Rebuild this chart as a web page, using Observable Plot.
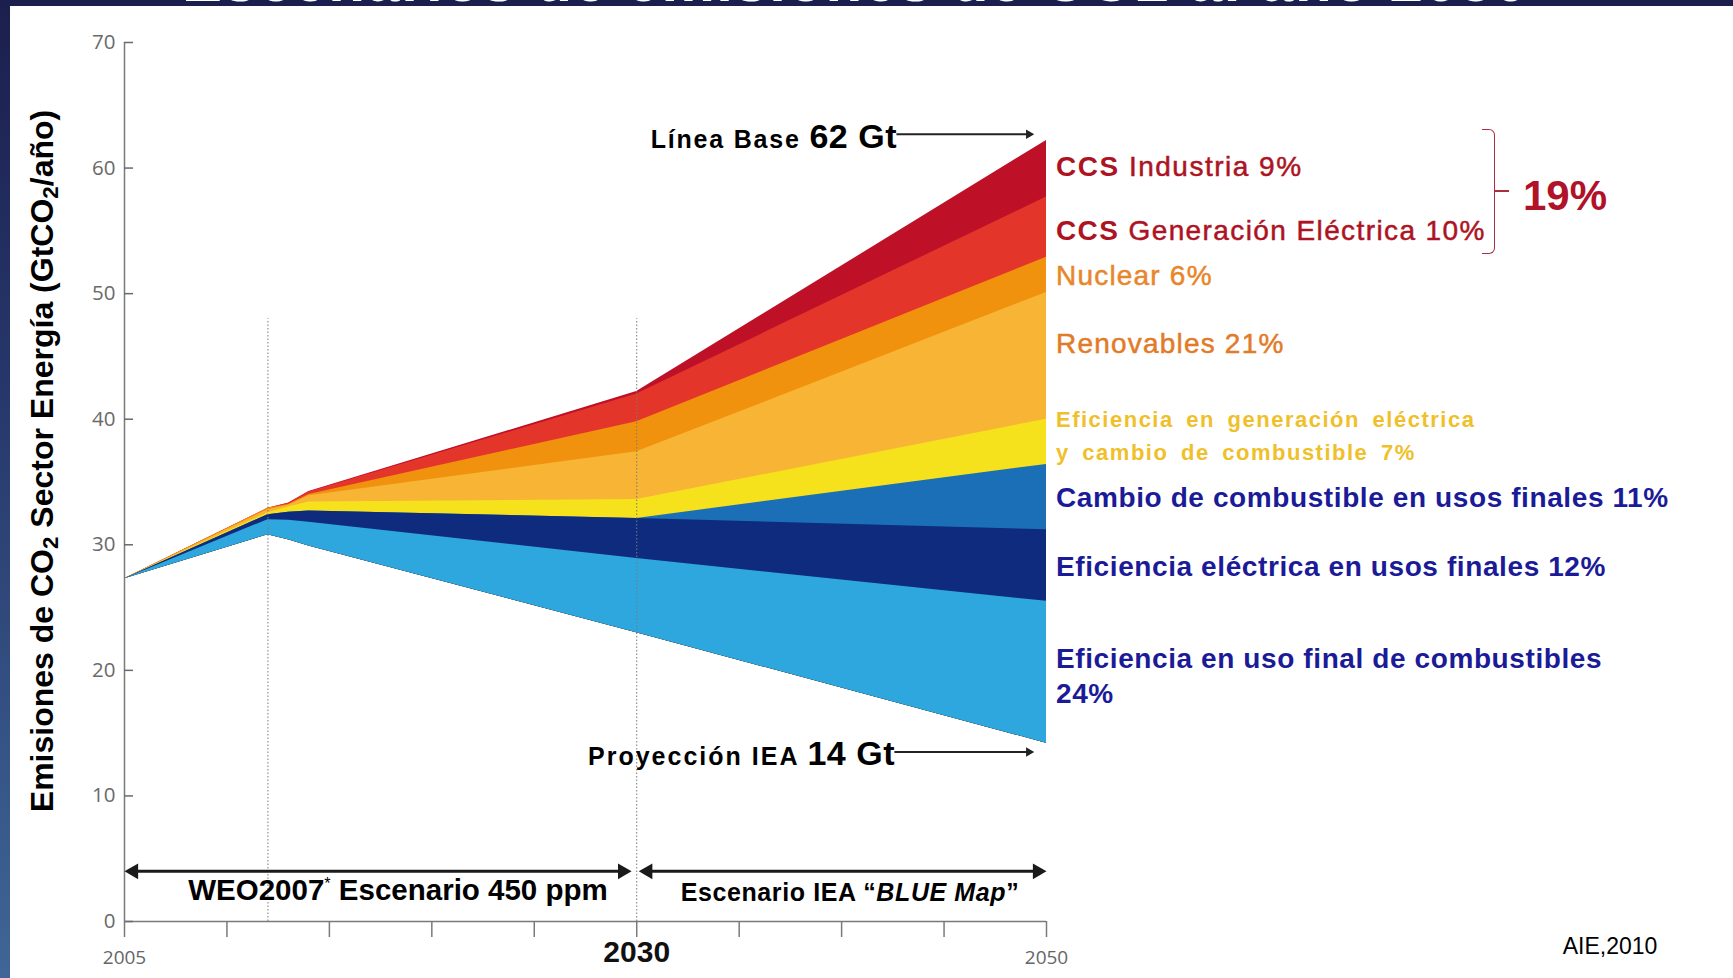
<!DOCTYPE html>
<html><head><meta charset="utf-8">
<script src="https://cdn.jsdelivr.net/npm/d3@7"></script>
<script src="https://cdn.jsdelivr.net/npm/@observablehq/plot@0.6"></script>
<style>
html,body{margin:0;padding:0}
body{width:1733px;height:978px;position:relative;overflow:hidden;background:#fff;font-family:"Liberation Sans",Arial,sans-serif}
#chart{position:absolute;left:0;top:0}
.t{position:absolute;white-space:nowrap;line-height:1}
.leftband{position:absolute;left:0;top:0;width:10px;height:978px;background:linear-gradient(#1b1f4d,#27376b 40%,#3f6696)}
.topband{position:absolute;left:0;top:0;width:1733px;height:6px;background:#1b1f4d;overflow:hidden}
.topband span{position:absolute;left:182px;top:-49px;font:bold 60px "Liberation Sans",Arial,sans-serif;line-height:1;color:#fff;white-space:nowrap;letter-spacing:1.5px}
</style></head><body>
<div id="chart"></div>
<div class="leftband"></div>
<div class="topband"><span>Escenarios de emisiones de CO2 al año 2050</span></div>
<script>
// ---- data (GtCO2/año) ----
const years = [2005, 2012, 2013, 2014, 2030, 2050];
const proyeccionIEA = [27.3, 30.8, 30.4, 29.9, 23.0, 14.2];   // bottom edge (BLUE Map)
const eficUsoFinal = [0, 1.2, 1.55, 1.9, 5.9, 11.3];
const eficElectrica = [0, 0.4, 0.65, 0.9, 3.2, 5.7];
const cambioCombustible = [0, 0, 0, 0, 0, 5.2];
const eficGeneracion = [0, 0.15, 0.4, 0.7, 1.5, 3.6];
const renovables = [0, 0.25, 0.15, 0.5, 3.8, 10.1];
const nuclear = [0, 0.1, 0.05, 0.1, 2.4, 2.8];
const ccsGeneracion = [0, 0, 0.1, 0.2, 2.2, 4.8];
const ccsIndustria = [0, 0, 0, 0.05, 0.2, 4.5];
const layerNames = ["Eficiencia en uso final de combustibles", "Eficiencia eléctrica en usos finales",
  "Cambio de combustible en usos finales", "Eficiencia en generación eléctrica y cambio de combustible",
  "Renovables", "Nuclear", "CCS Generación Eléctrica", "CCS Industria"];
const layerValues = [eficUsoFinal, eficElectrica, cambioCombustible, eficGeneracion, renovables, nuclear, ccsGeneracion, ccsIndustria];
const layerColors = ["#2ea7de", "#0f2b7d", "#1b6fb6", "#f6e11d", "#f8b434", "#f0920d", "#e4352a", "#be1027"];
const yTicks = [0, 10, 20, 30, 40, 50, 60, 70];
const xTicks = [2005, 2010, 2015, 2020, 2025, 2030, 2035, 2040, 2045, 2050];
const xLabelsSmall = [2005, 2050];
const xLabelsBig = [2030];
const phaseYears = [2012, 2030];
const phaseTop = 48;
const scenarioArrows = [{from: 2005, to: 2029.75, y: 4}, {from: 2030.1, to: 2050, y: 4}];
const valueArrows = [{from: 2042.7, to: 2049.4, y: 62.7}, {from: 2042.6, to: 2049.4, y: 13.5}];

// ---- build table ----
const layerRows = [];
let cum = proyeccionIEA.slice();
layerValues.forEach((vals, k) => {
  cum = cum.map((c, i) => c + vals[i]);
  layerRows.push(years.map((yr, i) => ({layer: layerNames[k], year: yr, base: proyeccionIEA[i], top: cum[i]})));
});

const marks = [];
for (let k = layerRows.length - 1; k >= 0; k--) {
  marks.push(Plot.areaY(layerRows[k], {x: "year", y1: "base", y2: "top", fill: layerColors[k]}));
}
const bigR = 7.5, smallR = 4.5;
const tip = r => r * Math.sqrt(Math.PI) * 0.6824;
const leftHeads = scenarioArrows.map(a => ({x: a.from, y: a.y}));
const rightHeads = scenarioArrows.map(a => ({x: a.to, y: a.y}));
const smallHeads = valueArrows.map(a => ({x: a.to, y: a.y}));

marks.push(
  Plot.ruleX(phaseYears, {x: d => d, y1: 0, y2: phaseTop, stroke: "#7a7a7a", strokeWidth: 1, strokeDasharray: "1.5,2"}),
  Plot.ruleX([2005], {y1: 0, y2: 70, stroke: "#7a7a7a", strokeWidth: 1.5}),
  Plot.ruleY([0], {x1: 2005, x2: 2050, stroke: "#7a7a7a", strokeWidth: 1.5}),
  Plot.axisY(yTicks, {tickSize: -9, tickPadding: 18, fontSize: 20.5, color: "#6a6a6a", label: null, fontFamily: "Open Sans, sans-serif", strokeWidth: 1.5}),
  Plot.axisX(xTicks, {tickSize: 16, tickFormat: () => "", label: null, color: "#7a7a7a", strokeWidth: 1.5}),
  Plot.text(xLabelsSmall, {x: d => d, frameAnchor: "bottom", dy: 42, text: d => String(d), fontSize: 19, fill: "#666", fontFamily: "Open Sans, sans-serif"}),
  Plot.text(xLabelsBig, {x: d => d, frameAnchor: "bottom", dy: 40, text: d => String(d), fontSize: 30, fontWeight: "bold", fill: "#111", fontFamily: "Liberation Sans Narrow, Liberation Sans, sans-serif"}),
  Plot.ruleY(scenarioArrows, {y: "y", x1: "from", x2: "to", stroke: "#1a1a1a", strokeWidth: 3, insetLeft: 4, insetRight: 4}),
  Plot.dot(leftHeads, {x: "x", y: "y", rotate: -90, symbol: "triangle2", r: bigR, fill: "#1a1a1a", dx: tip(bigR)}),
  Plot.dot(rightHeads, {x: "x", y: "y", rotate: 90, symbol: "triangle2", r: bigR, fill: "#1a1a1a", dx: -tip(bigR)}),
  Plot.ruleY(valueArrows, {y: "y", x1: "from", x2: "to", stroke: "#222", strokeWidth: 2, insetRight: 3}),
  Plot.dot(smallHeads, {x: "x", y: "y", rotate: 90, symbol: "triangle2", r: smallR, fill: "#222", dx: -tip(smallR)})
);

const chart = Plot.plot({
  width: 1733, height: 978,
  marginLeft: 124, marginRight: 687, marginTop: 42, marginBottom: 57,
  x: {domain: [2005, 2050]},
  y: {domain: [0, 70]},
  style: {background: "white", overflow: "visible"},
  marks
});
document.getElementById("chart").appendChild(chart);

// ---- text annotations ----
function place(html, o) {
  const d = document.createElement("div");
  d.className = "t";
  d.innerHTML = html;
  d.style.left = o.left + "px";
  d.style.top = o.cy + "px";
  d.style.fontSize = o.size + "px";
  d.style.color = o.color || "#000";
  d.style.fontWeight = o.weight || "bold";
  if (o.family) d.style.fontFamily = o.family;
  if (o.ls) d.style.letterSpacing = o.ls + "px";
  if (o.ws) d.style.wordSpacing = o.ws + "px";
  d.style.transform = (o.center ? "translate(-50%,-50%)" : o.right ? "translate(-100%,-50%)" : "translateY(-50%)") + (o.rot ? " rotate(" + o.rot + "deg)" : "");
  if (o.extra) Object.assign(d.style, o.extra);
  document.body.appendChild(d);
  return d;
}
const narrow = '"Liberation Sans Narrow","Liberation Sans",Arial,sans-serif';
place('Emisiones de CO<sub style="font-size:0.7em;vertical-align:-0.2em">2</sub> Sector Energía (GtCO<sub style="font-size:0.7em;vertical-align:-0.2em">2</sub>/año)',
  {left: 44, cy: 461, size: 32, family: narrow, center: true, rot: -90});

const red = "#ad1322", orange1 = "#e8862b", orange2 = "#e27b27", gold = "#f0c02a", blue = "#1b1b98";
const semi = c => ({webkitTextStroke: "0.5px " + c});
place('CCS <span style="font-weight:normal;-webkit-text-stroke:0.5px ' + red + '">Industria 9%</span>', {left: 1056, cy: 167, size: 28, color: red, ls: 1.5});
place('CCS <span style="font-weight:normal;-webkit-text-stroke:0.5px ' + red + '">Generación Eléctrica 10%</span>', {left: 1056, cy: 231, size: 28, color: red, ls: 1.4});
place('Nuclear 6%', {left: 1056, cy: 276, size: 28, color: orange1, weight: "normal", ls: 1.2, extra: semi(orange1)});
place('Renovables 21%', {left: 1056, cy: 344, size: 28, color: orange2, weight: "normal", ls: 1.2, extra: semi(orange2)});
place('Eficiencia en generación eléctrica', {left: 1056, cy: 420, size: 22, color: gold, ls: 1.5, ws: 5});
place('y cambio de combustible 7%', {left: 1056, cy: 453, size: 22, color: gold, ls: 1.5, ws: 5});
place('Cambio de combustible en usos finales 11%', {left: 1056, cy: 498, size: 28, color: blue, ls: 0.6});
place('Eficiencia eléctrica en usos finales 12%', {left: 1056, cy: 567, size: 28, color: blue, ls: 0.6});
place('Eficiencia en uso final de combustibles', {left: 1056, cy: 659, size: 28, color: blue, ls: 0.6});
place('24%', {left: 1056, cy: 694, size: 28, color: blue, ls: 0.6});
place('19%', {left: 1523, cy: 196, size: 42, color: "#b0122a", family: narrow});
// bracket
const br = document.createElement("div");
Object.assign(br.style, {position: "absolute", left: "1482px", top: "129px", width: "12px", height: "123px",
  border: "1.5px solid #a8303e", borderLeft: "none", borderRadius: "0 6px 6px 0"});
document.body.appendChild(br);
const brt = document.createElement("div");
Object.assign(brt.style, {position: "absolute", left: "1495px", top: "190px", width: "14px", height: "1.5px", background: "#a8303e"});
document.body.appendChild(brt);

place('Línea Base <span style="font-size:34px;letter-spacing:0.5px">62 Gt</span>', {left: 897, cy: 136, size: 25, ls: 1.8, right: true});
place('Proyección IEA <span style="font-size:34px;letter-spacing:0.5px">14 Gt</span>', {left: 895, cy: 753, size: 25, ls: 2, right: true});
place('WEO2007<sup style="font-size:0.55em;font-weight:normal">*</sup> Escenario 450 ppm', {left: 398, cy: 890, size: 29.5, family: narrow, center: true});
place('Escenario IEA “<i>BLUE Map</i>”', {left: 850, cy: 892, size: 25, ls: 0.6, center: true});
place('AIE,2010', {left: 1610, cy: 946, size: 23, weight: "normal", family: narrow, center: true});
</script>
</body></html>
